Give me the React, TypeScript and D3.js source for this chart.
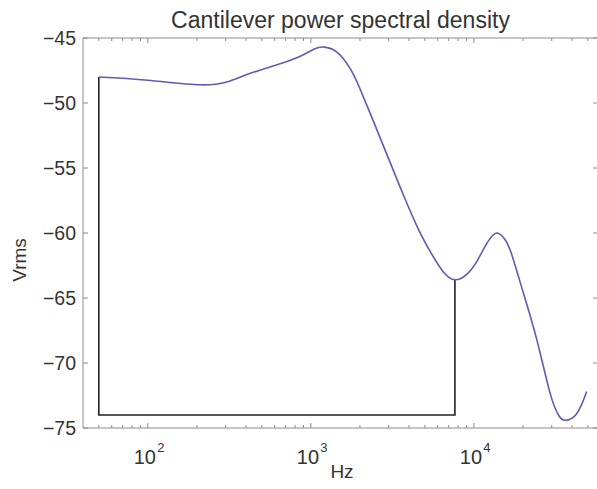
import React from "react";
import * as d3 from "d3";

const freqs = [50, 100, 210, 320, 430, 640, 860, 1050, 1200, 1450, 1750, 2000, 2400, 3000, 3700, 4600, 5500, 6500, 7645, 9000, 10400, 12000, 13800, 15500, 17000, 20100, 24300, 29300, 33000, 36200, 42700, 49200];
const values = [-48.0, -48.25, -48.6, -48.3, -47.7, -47.0, -46.4, -45.85, -45.7, -46.1, -47.4, -48.9, -51.3, -54.3, -57.1, -59.8, -61.6, -63.0, -63.6, -63.2, -62.2, -60.8, -60.0, -60.5, -61.6, -64.6, -68.2, -72.3, -74.0, -74.4, -73.9, -72.2];

const boxFreqs = [50, 7645];
const boxTopValues = [-48.0, -63.6];
const boxBottom = -74;

const yTicks = [-45, -50, -55, -60, -65, -70, -75];
const xMajor = [100, 1000, 10000];
const xMajorExp = ["2", "3", "4"];
const xMinor = [50, 60, 70, 80, 90, 200, 300, 400, 500, 600, 700, 800, 900, 2000, 3000, 4000, 5000, 6000, 7000, 8000, 9000, 20000, 30000, 40000, 50000];

const W = 597, H = 489;
const M = { left: 83, right: 598, top: 38, bottom: 428 };
const font = "'Liberation Sans', Arial, Helvetica, sans-serif";
const axisColor = "#8c8c8c";
const textColor = "#333";

export default function App() {
  const x = d3.scaleLog().domain([40, 57700]).range([M.left, M.right]);
  const y = d3.scaleLinear().domain([-75, -45]).range([M.bottom, M.top]);
  const pts: [number, number][] = freqs.map((f, i) => [x(f), y(values[i])]);
  const line = d3.line().curve(d3.curveNatural)(pts) || "";
  const box = d3.line()([
    [x(boxFreqs[0]), y(boxTopValues[0])],
    [x(boxFreqs[0]), y(boxBottom)],
    [x(boxFreqs[1]), y(boxBottom)],
    [x(boxFreqs[1]), y(boxTopValues[1])],
  ]) || "";
  return (
    <svg width={W} height={H} style={{ position: "absolute", left: 0, top: 0, background: "#fff" }} fontFamily={font}>
      <rect x={0} y={0} width={W} height={H} fill="#fff" />
      <text x={(M.left + M.right) / 2} y={28} textAnchor="middle" fontSize={23} fill={textColor}>Cantilever power spectral density</text>
      {/* spines */}
      <line x1={M.left} x2={M.right} y1={M.top} y2={M.top} stroke={axisColor} />
      <line x1={M.left} x2={M.right} y1={M.bottom} y2={M.bottom} stroke={axisColor} />
      <line x1={M.left} x2={M.left} y1={M.top} y2={M.bottom} stroke={axisColor} />
      <line x1={M.right} x2={M.right} y1={M.top} y2={M.bottom} stroke={axisColor} />
      {/* y ticks */}
      {yTicks.map((t) => (
        <g key={t}>
          <line x1={M.left} x2={M.left + 5} y1={y(t)} y2={y(t)} stroke={axisColor} />
          <line x1={M.right - 5} x2={M.right} y1={y(t)} y2={y(t)} stroke={axisColor} />
          <text x={76} y={y(t) + 7} textAnchor="end" fontSize={19.5} fill={textColor}>{"\u2212" + Math.abs(t)}</text>
        </g>
      ))}
      {/* x ticks */}
      {xMajor.map((t, i) => (
        <g key={t}>
          <line x1={x(t)} x2={x(t)} y1={M.bottom} y2={M.bottom - 5} stroke={axisColor} />
          <line x1={x(t)} x2={x(t)} y1={M.top} y2={M.top + 5} stroke={axisColor} />
          <text x={x(t) - 3} y={464} textAnchor="middle" fontSize={20} fill={textColor}>10</text>
          <text x={x(t) + 13} y={452} textAnchor="middle" fontSize={13} fill={textColor}>{xMajorExp[i]}</text>
        </g>
      ))}
      {xMinor.map((t) => (
        <g key={t}>
          <line x1={x(t)} x2={x(t)} y1={M.bottom} y2={M.bottom - 3} stroke={axisColor} />
          <line x1={x(t)} x2={x(t)} y1={M.top} y2={M.top + 3} stroke={axisColor} />
        </g>
      ))}
      <text x={342} y={478} textAnchor="middle" fontSize={19} fill={textColor}>Hz</text>
      <text transform={`translate(26,260) rotate(-90)`} textAnchor="middle" fontSize={19} fill={textColor}>Vrms</text>
      {/* data */}
      <path d={box} fill="none" stroke="#222" strokeWidth={1.6} />
      <path d={line} fill="none" stroke="#5c5cb4" strokeWidth={1.6} />
    </svg>
  );
}
